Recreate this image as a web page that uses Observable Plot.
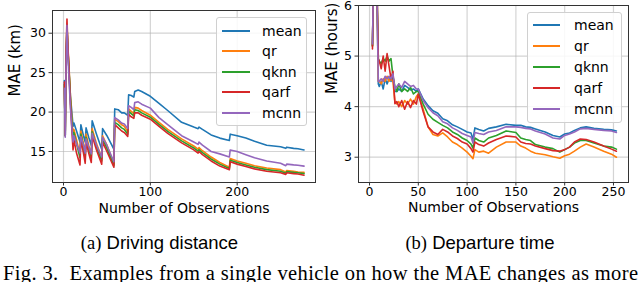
<!DOCTYPE html>
<html>
<head>
<meta charset="utf-8">
<script src="https://cdn.jsdelivr.net/npm/d3@7"></script>
<script src="https://cdn.jsdelivr.net/npm/@observablehq/plot@0.6"></script>
<style>
  html, body { margin: 0; padding: 0; background: #fff; }
  #wrap { position: relative; width: 640px; height: 282px; overflow: hidden; }
  #plots { display: flex; width: 640px; height: 222px; }
  .legend { position: absolute; background: rgba(255,255,255,0.85); border: 1px solid #d0d0d0; border-radius: 3px; box-sizing: border-box; }
  .legend .item { position: absolute; left: 0; height: 0; }
  .legend .swatch { position: absolute; height: 2px; top: -1px; }
  .legend .lab { position: absolute; top: -9px; font: 14px "DejaVu Sans", sans-serif; line-height: 18px; white-space: nowrap; color: #000; }
  #caps { position: absolute; left: 0; top: 222px; }
</style>
</head>
<body>
<div id="wrap">
  <div id="plots"></div>
  <svg id="caps" width="640" height="60"></svg>
</div>
<script>
// ---------- data ----------
const seriesNames = ["mean", "qr", "qknn", "qarf", "mcnn"];
const seriesColors = ["#1f77b4", "#ff7f0e", "#2ca02c", "#d62728", "#9467bd"];

// (a) Driving distance — MAE (km) vs number of observations
const distX = [1, 2, 3, 4, 5, 6, 8, 10, 11, 12, 15, 19, 20, 23, 25, 26, 29, 32, 33, 38, 44, 45, 50, 58, 59, 63, 67, 70, 74, 75, 78, 81, 82, 86, 90, 100, 110, 120, 136, 150, 155, 156, 160, 170, 180, 191, 192, 200, 210, 220, 234, 250, 256, 257, 265, 270, 277];
const distMean = [24, 17, 26, 30.5, 28, 26, 22, 19.5, 18.2, 18.6, 17.6, 16.2, 18.4, 17.0, 16.2, 18.0, 16.8, 15.8, 18.9, 17.2, 15.3, 17.9, 17.0, 15.3, 20.4, 20.3, 19.9, 19.9, 19.6, 22.2, 22.1, 21.9, 22.6, 22.8, 22.6, 22.0, 21.1, 20.2, 18.7, 18.1, 17.9, 18.1, 17.8, 17.1, 16.7, 16.4, 17.2, 17.0, 16.7, 16.3, 15.8, 15.6, 15.4, 15.55, 15.4, 15.35, 15.2];
const distQr = [23, 17.5, 27, 31, 28.5, 26.5, 22, 18.5, 17.0, 17.8, 16.5, 14.6, 17.6, 16.0, 14.8, 17.2, 15.8, 14.6, 17.9, 16.0, 14.2, 17.0, 15.8, 13.4, 19.1, 18.8, 18.4, 18.2, 17.5, 20.4, 20.1, 19.8, 20.6, 20.5, 20.2, 19.6, 18.7, 17.8, 16.6, 15.7, 15.3, 15.5, 15.1, 14.3, 13.6, 13.0, 14.1, 13.8, 13.5, 13.2, 12.9, 12.7, 12.4, 12.6, 12.5, 12.4, 12.35];
const distQknn = [23.5, 17, 27, 31, 28, 26, 21.5, 18, 16.5, 17.4, 16, 14.2, 17.2, 15.6, 14.4, 16.8, 15.4, 14.2, 17.5, 15.6, 13.8, 16.6, 15.4, 13.2, 18.7, 18.4, 18.0, 17.8, 17.2, 20.1, 19.8, 19.5, 20.3, 20.2, 19.9, 19.35, 18.45, 17.55, 16.35, 15.45, 15.05, 15.25, 14.85, 14.05, 13.4, 12.85, 13.9, 13.6, 13.3, 13.0, 12.7, 12.5, 12.25, 12.45, 12.35, 12.3, 12.2];
const distQarf = [23.8, 17, 28, 31.8, 28.5, 26, 21, 17, 15.2, 16.5, 14.8, 13.3, 16.5, 14.8, 13.5, 16.2, 14.8, 13.6, 17.0, 15.2, 13.4, 16.2, 15.0, 13.0, 18.4, 18.0, 17.6, 17.4, 16.9, 19.7, 19.4, 19.2, 19.9, 19.9, 19.6, 19.1, 18.2, 17.3, 16.1, 15.2, 14.8, 15.0, 14.6, 13.8, 13.15, 12.7, 13.7, 13.4, 13.1, 12.8, 12.5, 12.3, 12.1, 12.3, 12.2, 12.15, 12.0];
const distMcnn = [23, 16.8, 26, 31.0, 27.5, 25, 20.5, 17.5, 16.2, 17.0, 16.0, 14.8, 16.9, 15.8, 14.8, 16.6, 15.6, 14.7, 17.3, 15.8, 14.3, 16.8, 15.8, 13.7, 19.3, 19.0, 18.6, 18.5, 17.9, 20.8, 20.6, 20.3, 21.2, 21.3, 21.0, 20.5, 19.3, 18.4, 17.0, 16.2, 15.9, 16.2, 15.8, 15.0, 14.7, 14.3, 15.2, 15.0, 14.6, 14.2, 13.8, 13.5, 13.2, 13.4, 13.3, 13.25, 13.15];
const distXTicks = [0, 100, 200];
const distYTicks = [15, 20, 25, 30];

// (b) Departure time — MAE (hours) vs number of observations
const timeX = [3, 5, 7, 9, 10, 12, 14, 16, 18, 20, 22, 24, 26, 28, 30, 33, 36, 39, 42, 45, 48, 50, 55, 60, 65, 70, 75, 80, 85, 90, 95, 100, 104, 106, 108, 112, 117, 122, 130, 140, 150, 155, 160, 165, 170, 180, 188, 195, 200, 205, 210, 216, 222, 230, 240, 248, 253];
const timeMean = [5.2, 7.5, 7.0, 4.45, 4.4, 4.5, 4.35, 4.55, 4.45, 4.55, 4.5, 4.6, 4.3, 4.3, 4.35, 4.3, 4.42, 4.38, 4.33, 4.35, 4.3, 4.35, 4.15, 4.02, 3.92, 3.87, 3.76, 3.72, 3.64, 3.6, 3.55, 3.5, 3.48, 3.35, 3.58, 3.55, 3.52, 3.57, 3.6, 3.65, 3.63, 3.63, 3.6, 3.59, 3.56, 3.5, 3.43, 3.40, 3.46, 3.48, 3.53, 3.58, 3.6, 3.57, 3.55, 3.54, 3.52];
const timeQr = [5.2, 7.6, 7.0, 4.5, 4.5, 4.45, 4.55, 4.5, 4.6, 4.5, 4.55, 4.5, 4.1, 4.05, 4.1, 4.0, 4.12, 4.05, 4.15, 4.05, 4.2, 4.25, 3.95, 3.6, 3.45, 3.42, 3.48, 3.4, 3.3, 3.25, 3.18, 3.1, 3.02, 2.97, 3.15, 3.1, 3.12, 3.08, 3.2, 3.3, 3.3, 3.22, 3.18, 3.12, 3.08, 3.05, 3.01, 2.98, 3.03, 3.06, 3.12, 3.2, 3.26, 3.2, 3.12, 3.06, 3.0];
const timeQknn = [5.2, 7.4, 7.0, 4.95, 4.9, 4.85, 4.95, 4.9, 5.0, 4.9, 4.95, 4.6, 4.4, 4.3, 4.45, 4.3, 4.35, 4.3, 4.38, 4.25, 4.3, 4.3, 4.05, 3.85, 3.75, 3.69, 3.63, 3.58, 3.5, 3.45, 3.38, 3.33, 3.26, 3.18, 3.38, 3.33, 3.3, 3.38, 3.43, 3.52, 3.49, 3.38, 3.35, 3.33, 3.25, 3.2, 3.17, 3.1, 3.15, 3.2, 3.28, 3.33, 3.33, 3.28, 3.22, 3.2, 3.16];
const timeQarf = [5.14, 7.8, 7.2, 4.94, 4.9, 4.75, 5.0, 4.7, 5.05, 4.8, 4.55, 4.7, 4.06, 4.1, 4.0, 4.12, 3.95, 4.1, 3.98, 4.12, 4.05, 4.25, 3.9, 3.6, 3.5, 3.45, 3.55, 3.5, 3.42, 3.37, 3.3, 3.26, 3.17, 3.1, 3.3, 3.25, 3.22, 3.28, 3.35, 3.42, 3.4, 3.3, 3.27, 3.26, 3.22, 3.17, 3.13, 3.12, 3.15, 3.2, 3.3, 3.36, 3.35, 3.3, 3.22, 3.16, 3.12];
const timeMcnn = [5.24, 7.6, 7.0, 4.5, 4.5, 4.55, 4.5, 4.6, 4.55, 4.6, 4.55, 4.65, 4.35, 4.4, 4.45, 4.38, 4.5, 4.45, 4.4, 4.42, 4.35, 4.35, 4.12, 3.98, 3.88, 3.82, 3.7, 3.66, 3.58, 3.53, 3.47, 3.43, 3.4, 3.28, 3.49, 3.47, 3.45, 3.5, 3.53, 3.6, 3.6, 3.59, 3.57, 3.56, 3.52, 3.46, 3.38, 3.36, 3.43, 3.46, 3.5, 3.56, 3.57, 3.55, 3.53, 3.52, 3.49];
const timeXTicks = [0, 50, 100, 150, 200, 250];
const timeYTicks = [3, 4, 5, 6];

const captionA = ["(a)", " Driving distance"];
const captionB = ["(b)", " Departure time"];
const figCaption = "Fig. 3.  Examples from a single vehicle on how the MAE changes as more";

// ---------- build ----------
function tidy(xs, ys) {
  return seriesNames.flatMap((s, i) => xs.map((x, j) => ({series: s, x, y: ys[i][j]})));
}
const distData = tidy(distX, [distMean, distQr, distQknn, distQarf, distMcnn]);
const timeData = tidy(timeX, [timeMean, timeQr, timeQknn, timeQarf, timeMcnn]);

function panel({data, xDomain, yDomain, xTicks, yTicks, yLabel, marginLeft, marginRight, marginTop, marginBottom, yLabelDx, xLabelDy}) {
  return Plot.plot({
    width: 320, height: 222,
    marginLeft, marginRight, marginTop, marginBottom,
    style: {fontFamily: "DejaVu Sans, sans-serif", fontSize: "12.5px", color: "#000", background: "transparent", overflow: "visible"},
    x: {domain: xDomain},
    y: {domain: yDomain},
    color: {domain: seriesNames, range: seriesColors},
    marks: [
      Plot.gridX(xTicks, {stroke: "#b0b0b0", strokeOpacity: 0.55, strokeWidth: 1.2}),
      Plot.gridY(yTicks, {stroke: "#b0b0b0", strokeOpacity: 0.55, strokeWidth: 1.2}),
      Plot.line(data, {x: "x", y: "y", z: "series", stroke: "series", strokeWidth: 1.6, clip: true}),
      Plot.frame({stroke: "#333", strokeWidth: 1}),
      Plot.axisX(xTicks, {tickSize: 3.5, tickPadding: 1.5, label: null, fontSize: 12.5, stroke: "#333", tickFormat: d => String(d)}),
      Plot.axisY(yTicks, {tickSize: 3.5, tickPadding: 3, label: null, fontSize: 12.5, stroke: "#333", tickFormat: d => String(d)}),
      Plot.text(["Number of Observations"], {frameAnchor: "bottom", dy: xLabelDy, fontSize: 14}),
      Plot.text([yLabel], {frameAnchor: "left", dx: yLabelDx, rotate: -90, fontSize: 15})
    ]
  });
}

const plots = document.getElementById("plots");
plots.appendChild(panel({
  data: distData, xDomain: [-12.67, 290.2], yDomain: [11.07, 32.88],
  xTicks: distXTicks, yTicks: distYTicks, yLabel: "MAE (km)",
  marginLeft: 52, marginRight: 5, marginTop: 10, marginBottom: 40, yLabelDx: -37, xLabelDy: 30.5
}));
plots.appendChild(panel({
  data: timeData, xDomain: [-11.3, 265.4], yDomain: [2.5, 6],
  xTicks: timeXTicks, yTicks: timeYTicks, yLabel: "MAE (hours)",
  marginLeft: 38, marginRight: 12, marginTop: 5, marginBottom: 40, yLabelDx: -26.5, xLabelDy: 29
}));

// legends
function legend(box) {
  const wrap = document.getElementById("wrap");
  const d = document.createElement("div");
  d.className = "legend";
  Object.assign(d.style, {left: box.left + "px", top: box.top + "px", width: box.width + "px", height: box.height + "px"});
  seriesNames.forEach((s, i) => {
    const it = document.createElement("div");
    it.className = "item";
    it.style.top = (box.first + i * box.row) + "px";
    const sw = document.createElement("div");
    sw.className = "swatch";
    Object.assign(sw.style, {left: box.swLeft + "px", width: box.swWidth + "px", background: seriesColors[i]});
    const lb = document.createElement("div");
    lb.className = "lab";
    lb.style.left = box.textLeft + "px";
    lb.textContent = s;
    it.appendChild(sw); it.appendChild(lb);
    d.appendChild(it);
  });
  wrap.appendChild(d);
}
legend({left: 216, top: 17, width: 91, height: 109, first: 12.5, row: 20.5, swLeft: 5, swWidth: 28, textLeft: 45});
legend({left: 527, top: 12, width: 95, height: 111, first: 11.5, row: 21.2, swLeft: 5, swWidth: 27, textLeft: 46});

// captions
const NS = "http://www.w3.org/2000/svg";
const caps = document.getElementById("caps");
function capText(parts, cx, y) {
  const t = document.createElementNS(NS, "text");
  t.setAttribute("x", cx); t.setAttribute("y", y);
  t.setAttribute("font-size", 18.5);
  t.setAttribute("text-anchor", "middle");
  t.setAttribute("style", "white-space: pre");
  parts.forEach((p, i) => {
    const ts = document.createElementNS(NS, "tspan");
    ts.setAttribute("font-family", i === 0 ? "Liberation Serif, serif" : "Liberation Sans, sans-serif");
    ts.textContent = p;
    t.appendChild(ts);
  });
  caps.appendChild(t);
}
capText(captionA, 159.5, 27);
capText(captionB, 480, 27);
const f = document.createElementNS(NS, "text");
f.setAttribute("x", 3); f.setAttribute("y", 57.5);
f.setAttribute("font-size", 20.5);
f.setAttribute("font-family", "Liberation Serif, serif");
f.setAttribute("textLength", 635);
f.setAttribute("lengthAdjust", "spacing");
f.setAttribute("style", "white-space: pre");
f.textContent = figCaption;
caps.appendChild(f);
</script>
</body>
</html>
